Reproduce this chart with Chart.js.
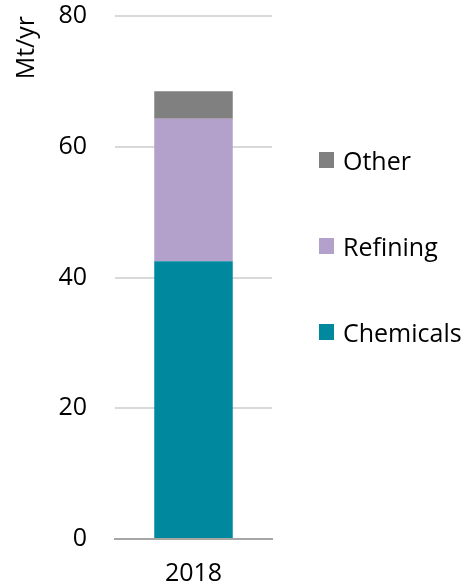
<!DOCTYPE html>
<html>
<head>
<meta charset="utf-8">
<script src="https://cdn.jsdelivr.net/npm/chart.js@4/dist/chart.umd.min.js"></script>
<style>
  html, body { margin: 0; padding: 0; background: #fff; }
  #wrap { position: relative; width: 462px; height: 583px; }
  #legend { position: absolute; left: 319px; top: 0; font-family: "Open Sans", sans-serif; font-size: 25px; color: #000; }
  .item { position: absolute; left: 0; white-space: nowrap; display: flex; align-items: center; height: 30px; }
  .box { width: 15px; height: 16px; margin-right: 9px; }
</style>
</head>
<body>
<div id="wrap">
  <canvas id="chart" width="462" height="583"></canvas>
  <div id="legend"></div>
</div>
<script>
const years = ['2018'];
const chemicals = [42.5];
const refining = [21.8];
const other = [4.2];
const yTicks = [0, 20, 40, 60, 80];

const series = [
    { label: 'Chemicals', data: chemicals, color: '#00889e' },
    { label: 'Refining', data: refining, color: '#b3a0cb' },
    { label: 'Other', data: other, color: '#808080' }
];

const ctx = document.getElementById('chart').getContext('2d');
Chart.defaults.font.family = '"Open Sans", sans-serif';
Chart.defaults.font.size = 25;
Chart.defaults.color = '#000';

const chart = new Chart(ctx, {
    type: 'bar',
    data: {
        labels: years,
        datasets: series.map(s => ({
            label: s.label,
            data: s.data,
            backgroundColor: s.color,
            barPercentage: 0.5,
            categoryPercentage: 1
        }))
    },
    options: {
        responsive: false,
        animation: false,
        layout: { padding: { top: 16, right: 190, left: 2, bottom: 0 } },
        plugins: {
            legend: { display: false },
            tooltip: { enabled: false }
        },
        scales: {
            x: {
                stacked: true,
                grid: { display: false, drawTicks: false },
                border: { color: '#a6a6a6', width: 2 },
                ticks: { padding: 20 },
                afterFit: s => { s.height = 44; s.paddingLeft = 0; s.paddingRight = 0; }
            },
            y: {
                stacked: true,
                min: 0,
                max: 80,
                afterBuildTicks: axis => { axis.ticks = yTicks.map(v => ({ value: v })); },
                grid: { color: '#d9d9d9', lineWidth: 2, drawTicks: false },
                border: { display: false },
                ticks: { padding: 28 },
                title: { display: true, text: 'Mt/yr', align: 'end', padding: { top: 10, bottom: 0 } },
                afterFit: s => { s.width = 113; s.paddingTop = 0; s.paddingBottom = 0; }
            }
        }
    }
});

// legend, top item first (reverse of stack order)
const legend = document.getElementById('legend');
const centers = [160, 246, 332];
series.slice().reverse().forEach((s, i) => {
    const item = document.createElement('div');
    item.className = 'item';
    item.style.top = (centers[i] - 15) + 'px';
    item.innerHTML = '<span class="box" style="background:' + s.color + '"></span><span>' + s.label + '</span>';
    legend.appendChild(item);
});
</script>
</body>
</html>
